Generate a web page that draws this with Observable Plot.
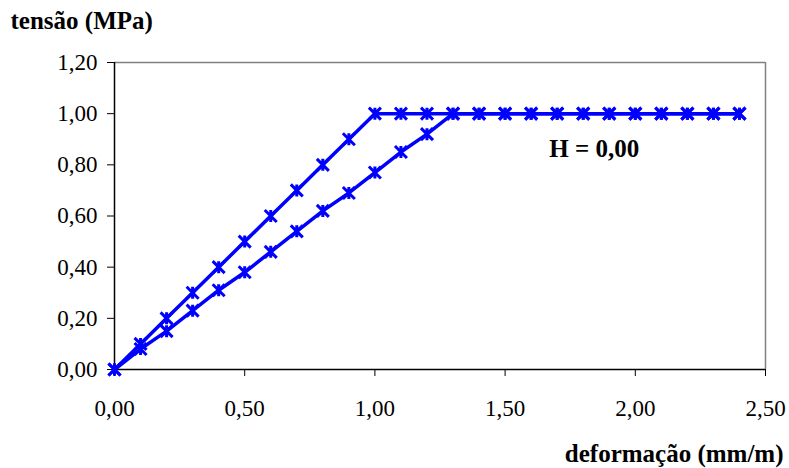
<!DOCTYPE html>
<html>
<head>
<meta charset="utf-8">
<script src="https://cdn.jsdelivr.net/npm/d3@7"></script>
<script src="https://cdn.jsdelivr.net/npm/@observablehq/plot@0.6"></script>
<style>
  html, body { margin: 0; padding: 0; background: #fff; }
  svg, svg text { font-family: "Liberation Serif", "Times New Roman", serif !important; }
</style>
</head>
<body>
<div id="chart"></div>
<script>
// Data
const strainA = [0, 0.1, 0.2, 0.3, 0.4, 0.5, 0.6, 0.7, 0.8, 0.9, 1.0, 1.1, 1.2, 1.3, 1.4, 1.5, 1.6, 1.7, 1.8, 1.9, 2.0, 2.1, 2.2, 2.3, 2.4];
const stressA = [0, 0.10, 0.20, 0.30, 0.40, 0.50, 0.60, 0.70, 0.80, 0.90, 1.00, 1.00, 1.00, 1.00, 1.00, 1.00, 1.00, 1.00, 1.00, 1.00, 1.00, 1.00, 1.00, 1.00, 1.00];
const strainB = [0, 0.1, 0.2, 0.3, 0.4, 0.5, 0.6, 0.7, 0.8, 0.9, 1.0, 1.1, 1.2, 1.3, 1.4, 1.5, 1.6, 1.7, 1.8, 1.9, 2.0, 2.1, 2.2, 2.3, 2.4];
const stressB = [0, 0.08, 0.15, 0.23, 0.31, 0.38, 0.46, 0.54, 0.62, 0.69, 0.77, 0.85, 0.92, 1.00, 1.00, 1.00, 1.00, 1.00, 1.00, 1.00, 1.00, 1.00, 1.00, 1.00, 1.00];
const xTicks = [0, 0.5, 1.0, 1.5, 2.0, 2.5];
const yTicks = [0, 0.2, 0.4, 0.6, 0.8, 1.0, 1.2];
const yTitle = "tensão (MPa)";
const xTitle = "deformação (mm/m)";
const note = "H = 0,00";

const seriesA = strainA.map((x, i) => ({x, y: stressA[i]}));
const seriesB = strainB.map((x, i) => ({x, y: stressB[i]}));

const fmt = v => d3.format(".2f")(v).replace(".", ",");

// Excel-like "star" marker: X plus a vertical bar
const starSymbol = {
  draw(ctx, size) {
    const s = Math.sqrt(size / Math.PI);
    ctx.moveTo(-s, -s); ctx.lineTo(s, s);
    ctx.moveTo(-s, s); ctx.lineTo(s, -s);
    ctx.moveTo(0, -s); ctx.lineTo(0, s);
  }
};

const blue = "#0000ff";
const serif = "Liberation Serif, Times New Roman, serif";

const chart = Plot.plot({
  width: 789,
  height: 468,
  marginLeft: 114,
  marginRight: 24,
  marginTop: 62,
  marginBottom: 99,
  style: {fontFamily: serif, fontSize: "23px", color: "#000", background: "#fff"},
  x: {domain: [0, 2.5], ticks: xTicks, tickFormat: fmt, tickSize: 7, tickPadding: 23, label: null},
  y: {domain: [0, 1.2], ticks: yTicks, tickFormat: fmt, tickSize: 7, tickPadding: 10, label: null},
  marks: [
    Plot.ruleY([1.2], {stroke: "#808080", strokeWidth: 1.5}),
    Plot.ruleX([2.5], {stroke: "#808080", strokeWidth: 1.5}),
    Plot.ruleX([0], {stroke: "#000", strokeWidth: 1.5}),
    Plot.ruleY([0], {stroke: "#000", strokeWidth: 1.5}),
    Plot.line(seriesB, {x: "x", y: "y", stroke: blue, strokeWidth: 3.5}),
    Plot.line(seriesA, {x: "x", y: "y", stroke: blue, strokeWidth: 3.5}),
    Plot.dot(seriesB, {x: "x", y: "y", symbol: starSymbol, r: 6, stroke: blue, strokeWidth: 3, fill: "none"}),
    Plot.dot(seriesA, {x: "x", y: "y", symbol: starSymbol, r: 6, stroke: blue, strokeWidth: 3, fill: "none"}),
    Plot.text([note], {x: 1.67, y: 0.86, text: d => d, textAnchor: "start", lineAnchor: "middle", fontFamily: serif, fontWeight: "bold", fontSize: 25, fill: "#000"}),
    Plot.text([yTitle], {frameAnchor: "top-left", text: d => d, textAnchor: "start", lineAnchor: "middle", dx: -104, dy: -42, fontFamily: serif, fontWeight: "bold", fontSize: 25, fill: "#000"}),
    Plot.text([xTitle], {frameAnchor: "bottom-right", text: d => d, textAnchor: "end", lineAnchor: "middle", dx: 18, dy: 84, fontFamily: serif, fontWeight: "bold", fontSize: 25, fill: "#000"})
  ]
});
document.getElementById("chart").appendChild(chart);
</script>
</body>
</html>
